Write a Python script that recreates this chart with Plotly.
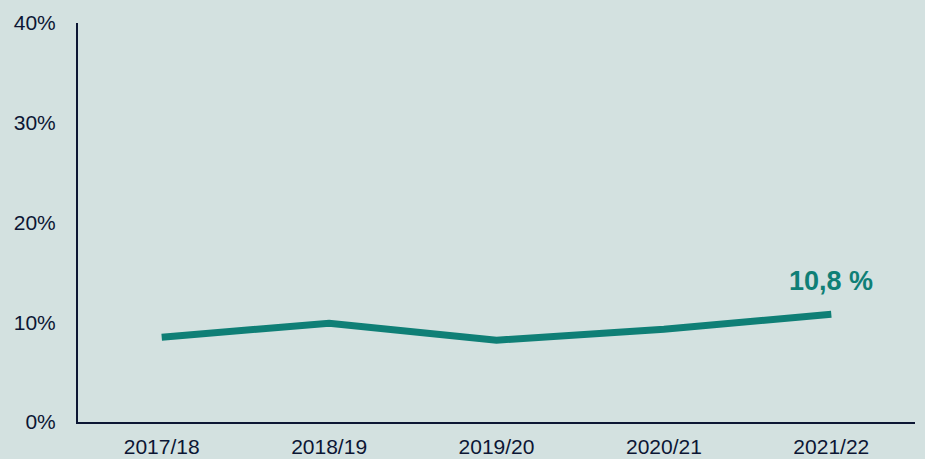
import plotly.graph_objects as go

years = ["2017/18", "2018/19", "2019/20", "2020/21", "2021/22"]
values = [8.5, 9.9, 8.2, 9.3, 10.8]
y_ticks = [0, 10, 20, 30, 40]
y_tick_labels = ["0%", "10%", "20%", "30%", "40%"]
last_label = "10,8 %"

teal = "#0f7f76"
navy = "#0c1634"
bg = "#d3e1e0"

fig = go.Figure()
fig.add_trace(go.Scatter(
    x=years, y=values, mode="lines",
    line=dict(color=teal, width=7),
    hoverinfo="skip", showlegend=False,
))
fig.add_annotation(
    x=years[-1], y=values[-1], xref="x", yref="y",
    text="<b>" + last_label + "</b>", showarrow=False,
    yshift=33, font=dict(family="Liberation Sans, Arial", size=27, color=teal),
)
fig.update_layout(
    width=925, height=459,
    paper_bgcolor=bg, plot_bgcolor=bg,
    margin=dict(l=78, r=10, t=23, b=37, autoexpand=False),
    font=dict(family="Liberation Sans, Arial", size=21, color=navy),
)
fig.update_xaxes(
    type="category", range=[-0.5, 4.5], automargin=False,
    showline=True, linecolor=navy, linewidth=2,
    showgrid=False, zeroline=False, ticks="",
    ticklabelstandoff=5,
)
fig.update_yaxes(
    range=[0, 40], tickvals=y_ticks, ticktext=y_tick_labels, automargin=False,
    showline=True, linecolor=navy, linewidth=2,
    showgrid=False, zeroline=False, ticks="",
    ticklabelstandoff=16,
)
fig.write_html(
    "out.html",
    config={"displayModeBar": False},
    post_script="document.body.style.margin='0';document.body.style.background='%s';" % bg,
)
